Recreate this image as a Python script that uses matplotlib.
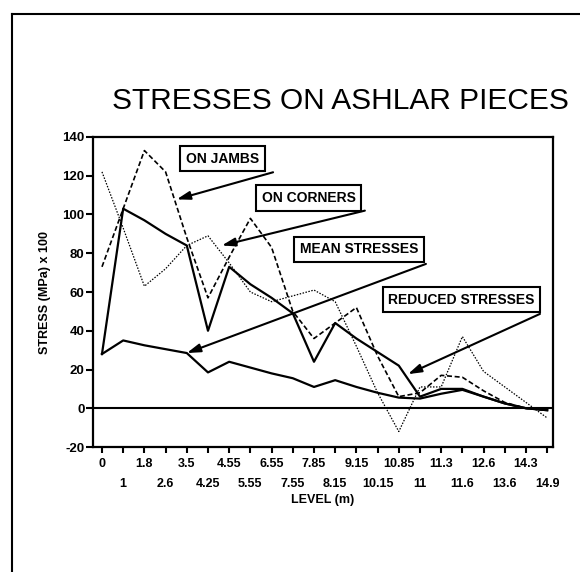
import matplotlib
matplotlib.use("Agg")
import matplotlib.pyplot as plt
from matplotlib.lines import Line2D

plt.rcParams['font.family'] = ['Liberation Sans', 'DejaVu Sans']

# level categories (m)
levels = ['0', '1', '1.8', '2.6', '3.5', '4.25', '4.55', '5.55', '6.55', '7.55', '7.85',
          '8.15', '9.15', '10.15', '10.85', '11', '11.3', '11.6', '12.6', '13.6', '14.3', '14.9']

# stresses (MPa x 100)
on_jambs = [73, 103, 133, 122, 88, 57, 78, 98, 83, 50, 36,
            44, 52, 27, 6, 8, 17, 16, 9, 3, 0, -1]
on_corners = [122, 93, 63, 72, 84, 89, 75, 60, 55, 58, 61,
              55, 32, 8, -12, 11, 11, 37, 19, 11, 3, -5]
upper_solid = [28, 103, 97, 90, 84, 40, 73, 64, 57, 49, 24,
               44, 36, 29, 22, 6, 10, 10, 6, 2.5, 0, -1]
lower_solid = [28, 35, 32.5, 30.5, 28.5, 18.5, 24, 21, 18, 15.5, 11,
               14.5, 11, 8, 5.5, 5, 7.5, 9.5, 6, 2.5, 0, -1]

x = list(range(len(levels)))

fig = plt.figure(figsize=(5.8, 5.72), dpi=100)
ax = fig.add_axes([0.1603, 0.2185, 0.793, 0.542])

ax.plot(x, upper_solid, color='black', lw=1.6)
ax.plot(x, lower_solid, color='black', lw=1.6)
ax.plot(x, on_jambs, color='black', lw=1.2, linestyle=(0, (3, 1.6)))
ax.plot(x, on_corners, color='black', lw=0.9, linestyle=(0, (1.2, 1.2)))
ax.axhline(0, color='black', lw=1.5)

ax.set_xlim(-0.425, 21.27)
ax.set_ylim(-20, 140)
ax.set_yticks(range(-20, 141, 20))
ax.set_yticklabels([str(v) for v in range(-20, 141, 20)], fontsize=9.5, fontweight='bold')

# alternate rows of level labels
ax.set_xticks(x[0::2])
ax.set_xticklabels(levels[0::2], fontsize=9, fontweight='bold')
ax.set_xticks(x[1::2], minor=True)
ax.set_xticklabels(levels[1::2], minor=True, fontsize=9, fontweight='bold')
ax.tick_params(axis='x', which='major', direction='out', length=4, width=1.5, pad=4)
ax.tick_params(axis='x', which='minor', direction='out', length=4, width=1.5, pad=18)
ax.tick_params(axis='y', direction='out', length=5, width=1.5, pad=1)
for sp in ax.spines.values():
    sp.set_linewidth(1.6)

ax.set_xlabel('LEVEL (m)', fontsize=9, fontweight='bold', labelpad=3)
ax.set_ylabel('STRESS (MPa) x 100', fontsize=9, fontweight='bold', labelpad=8)

fig.text(0.587, 0.823, 'STRESSES ON ASHLAR PIECES', fontsize=21.5, ha='center', va='center')

# boxed notes with arrows
box = dict(boxstyle='square,pad=0.4', fc='white', ec='black', lw=1.5)
arr = dict(arrowstyle='-|>,head_length=0.8,head_width=0.25', color='black', lw=1.5, shrinkA=0, shrinkB=0)

notes = [
    ('ON JAMBS', (5.68, 128.8), (8.07, 121.8), (3.52, 107.8)),
    ('ON CORNERS', (9.76, 108.5), (12.4, 102), (5.65, 84)),
    ('MEAN STRESSES', (12.12, 82), (15.28, 74.5), (4.0, 28.5)),
    ('REDUCED STRESSES', (16.96, 56), (20.66, 48.7), (14.43, 17.6)),
]
for label, pos, start, tip in notes:
    ax.annotate('', xy=tip, xytext=start, arrowprops=arr, zorder=4)
    ax.text(pos[0], pos[1], label, fontsize=10, fontweight='bold', ha='center', va='center',
            bbox=box, zorder=5)

# outer frame (left and top edges)
fig.add_artist(Line2D([12 / 580, 12 / 580], [0, 1 - 14 / 572], color='black', lw=1.5))
fig.add_artist(Line2D([12 / 580, 1], [1 - 14 / 572, 1 - 14 / 572], color='black', lw=1.5))

fig.savefig('out.png', dpi=100)
